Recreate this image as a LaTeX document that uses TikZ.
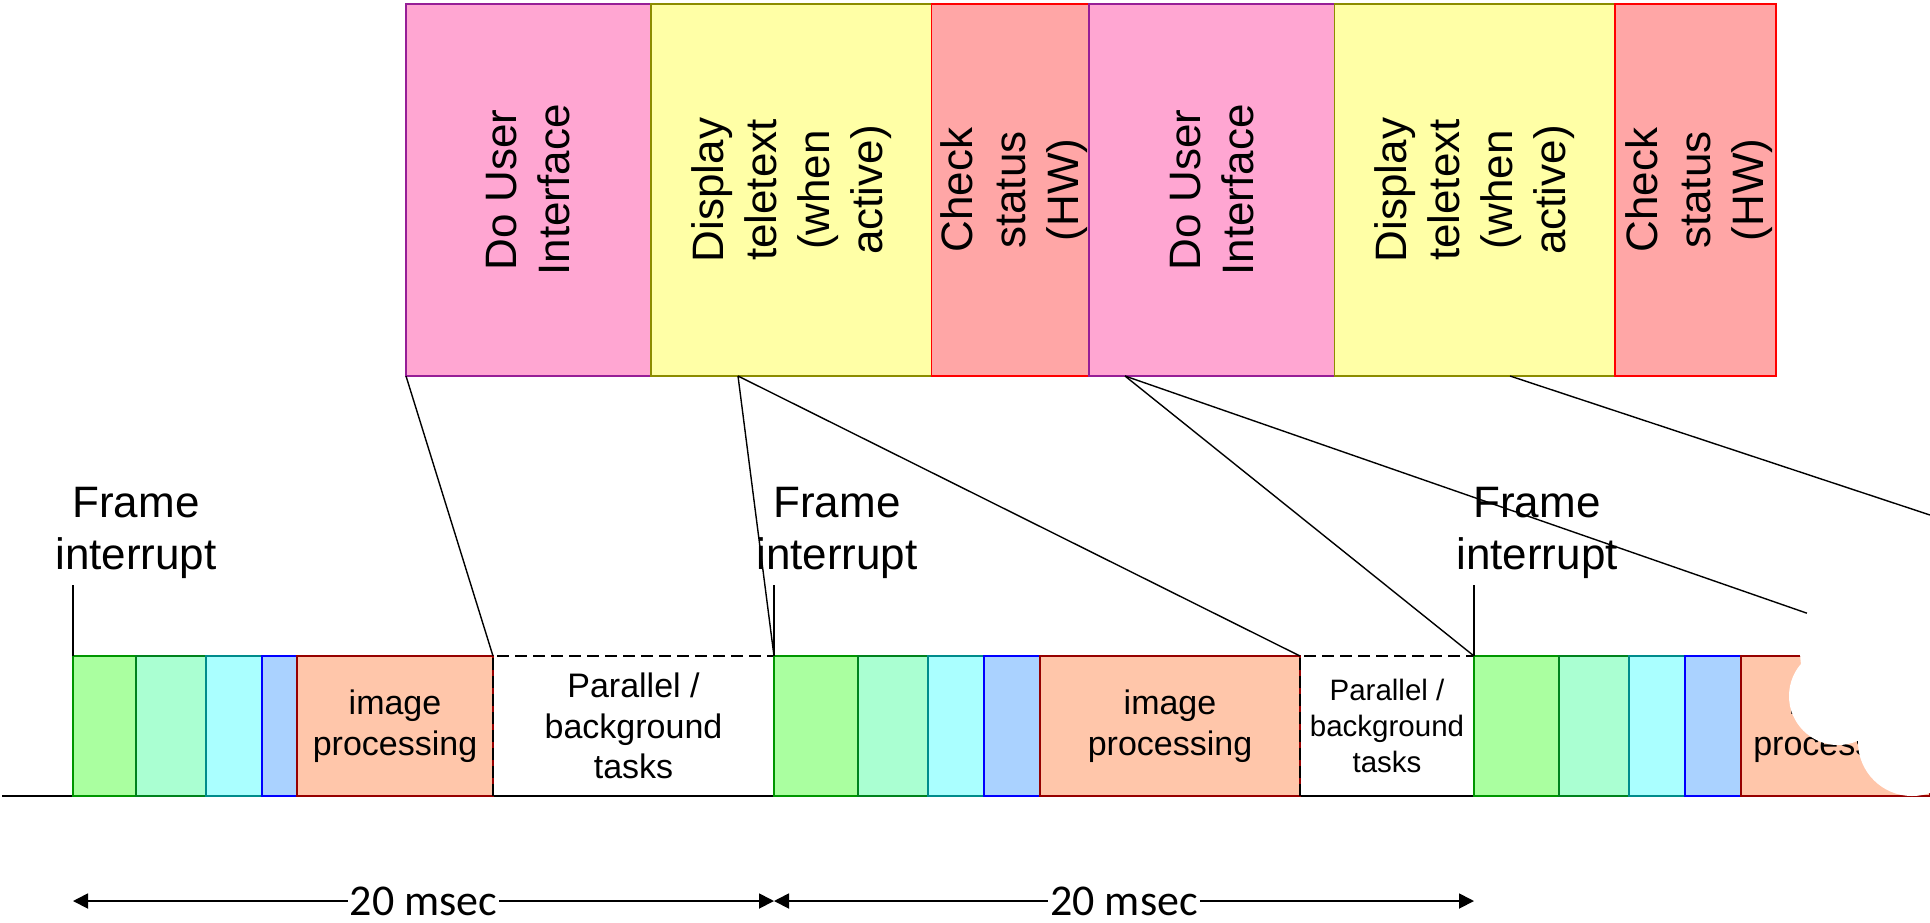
\documentclass[tikz,border=0pt]{standalone}
\usepackage{fontspec}
\setmainfont{Liberation Sans}
\newfontfamily\calibfont{Carlito}
\usetikzlibrary{arrows.meta,calc}
\definecolor{uiF}{RGB}{255,166,210}
\definecolor{uiD}{RGB}{150,30,150}
\definecolor{ttF}{RGB}{255,255,166}
\definecolor{ttD}{RGB}{140,140,0}
\definecolor{csF}{RGB}{255,166,166}
\definecolor{csD}{RGB}{255,0,0}
\definecolor{gaF}{RGB}{170,255,160}
\definecolor{gaD}{RGB}{0,150,0}
\definecolor{gbF}{RGB}{170,255,210}
\definecolor{gbD}{RGB}{0,130,30}
\definecolor{cyF}{RGB}{170,255,255}
\definecolor{cyD}{RGB}{0,140,140}
\definecolor{blF}{RGB}{170,210,255}
\definecolor{blD}{RGB}{0,0,255}
\definecolor{orF}{RGB}{255,198,170}
\definecolor{orD}{RGB}{150,0,0}
\tikzset{
  topbox/.style={rectangle, inner sep=0pt, outer sep=0pt, line width=1.4pt, minimum height=372pt, anchor=north west},
  botbox/.style={rectangle, inner sep=0pt, outer sep=0pt, line width=1.6pt, minimum height=140pt, anchor=south west, align=center},
  toptext/.style={rotate=90, align=center, inner sep=0pt, font=\fontsize{44}{53}\selectfont},
  frlabel/.style={align=center, inner sep=0pt, anchor=south, font=\fontsize{44}{52}\selectfont},
  bigtxt/.style={font=\fontsize{34}{40.5}\selectfont},
  smalltxt/.style={font=\fontsize{29.5}{36}\selectfont},
  conn/.style={line width=1.4pt, black},
  pardash/.style={line width=1.8pt, black, dash pattern=on 12pt off 6pt},
  dimline/.style={line width=1.8pt, {Triangle[length=15pt,width=15pt]}-{Triangle[length=15pt,width=15pt]}},
  dimtext/.style={fill=white, inner sep=2pt, font=\calibfont\fontsize{44}{53}\selectfont},
  ga/.style={botbox, fill=gaF, draw=gaD},
  gb/.style={botbox, fill=gbF, draw=gbD},
  cy/.style={botbox, fill=cyF, draw=cyD},
  bl/.style={botbox, fill=blF, draw=blD},
  ip/.style={botbox, fill=orF, draw=orD, bigtxt},
  pt/.style={botbox}
}
\begin{document}
\begin{tikzpicture}[x=1pt,y=-1pt]
\useasboundingbox (0,0) rectangle (1930,922);
\clip (0,0) rectangle (1930,922);
\fill[white] (0,0) rectangle (1930,922);

% time line
\coordinate (tl0) at (2,796);
\coordinate (tlE) at (1935,796);
\draw[line width=1.8pt] (tl0) -- (tlE);

% period 1
\node[ga, minimum width=63pt] (ga1) at (73,796) {};
\node[gb, minimum width=70pt] (gb1) at (136,796) {};
\node[cy, minimum width=56pt] (cy1) at (206,796) {};
\node[bl, minimum width=35pt] (bl1) at (262,796) {};
\node[ip, minimum width=196pt] (ip1) at (297,796) {image\\processing};
\node[pt, bigtxt, minimum width=281pt] (pt1) at (493,796) {Parallel /\\background\\tasks};
\draw[pardash] (pt1.south west) -- (pt1.north west) -- (pt1.north east);

% period 2
\node[ga, minimum width=84pt] (ga2) at (774,796) {};
\node[gb, minimum width=70pt] (gb2) at (858,796) {};
\node[cy, minimum width=56pt] (cy2) at (928,796) {};
\node[bl, minimum width=56pt] (bl2) at (984,796) {};
\node[ip, minimum width=260pt] (ip2) at (1040,796) {image\\processing};
\node[pt, smalltxt, minimum width=174pt] (pt2) at (1300,796) {Parallel /\\background\\tasks};
\draw[pardash] (pt2.south west) -- (pt2.north west) -- (pt2.north east);

% period 3
\node[ga, minimum width=85pt] (ga3) at (1474,796) {};
\node[gb, minimum width=70pt] (gb3) at (1559,796) {};
\node[cy, minimum width=56pt] (cy3) at (1629,796) {};
\node[bl, minimum width=56pt] (bl3) at (1685,796) {};
\node[ip, minimum width=189pt] (ip3) at (1741,796) {image\\processing};

% frame interrupts
\foreach \g/\f in {ga1/fi1, ga2/fi2, ga3/fi3} {
  \draw[conn] (\g.north west) -- ++(0,-71);
  \node[frlabel] (\f) at ($(\g.north west)+(63,-77)$) {Frame\\interrupt};
}

% top boxes
\node[topbox, fill=uiF, draw=uiD, minimum width=245pt] (ui1) at (406,4) {};
\node[topbox, fill=ttF, draw=ttD, minimum width=280.5pt] (tt1) at (651,4) {};
\node[topbox, fill=csF, draw=csD, minimum width=157.5pt] (cs1) at (931.5,4) {};
\node[topbox, fill=uiF, draw=uiD, minimum width=245.5pt] (ui2) at (1089,4) {};
\node[topbox, fill=ttF, draw=ttD, minimum width=280.5pt] (tt2) at (1334.5,4) {};
\node[topbox, fill=csF, draw=csD, minimum width=161pt] (cs2) at (1615,4) {};
\node[toptext] at (ui1) {Do User\\Interface};
\node[toptext] at (tt1) {Display\\teletext\\(when\\active)};
\node[toptext] at ($(cs1)+(4,0)$) {Check\\status\\(HW)};
\node[toptext] at (ui2) {Do User\\Interface};
\node[toptext] at (tt2) {Display\\teletext\\(when\\active)};
\node[toptext] at ($(cs2)+(4,0)$) {Check\\status\\(HW)};

% connectors
\coordinate (t1p) at ($(tt1.south west)+(87,0)$);
\coordinate (u2p) at ($(ui2.south west)+(36,0)$);
\coordinate (t2p) at ($(tt2.south west)+(175.5,0)$);
\coordinate (offr) at (2356,656);
\draw[conn] (ui1.south west) -- (ip1.north east);
\draw[conn] (t1p) -- (ga2.north west);
\draw[conn] (t1p) -- (ip2.north east);
\draw[conn] (u2p) -- (ga3.north west);
\draw[conn] (u2p) -- (ip3.north east);
\draw[conn] (t2p) -- (offr);

% 20 msec dimensions
\coordinate (m0) at ($(ga1.south west)+(0,105)$);
\coordinate (m1) at ($(ga2.south west)+(0,105)$);
\coordinate (m2) at ($(ga3.south west)+(0,105)$);
\draw[dimline] (m0) -- node[dimtext] (ms1) {20 msec} (m1);
\draw[dimline] (m1) -- node[dimtext] (ms2) {20 msec} (m2);

% white occluding blobs at the right edge
\fill[white] (1838,696) circle[radius=49pt];
\fill[white] (1912,742) circle[radius=54pt];
\fill[white] (1900,650) circle[radius=100pt];
\end{tikzpicture}
\end{document}
